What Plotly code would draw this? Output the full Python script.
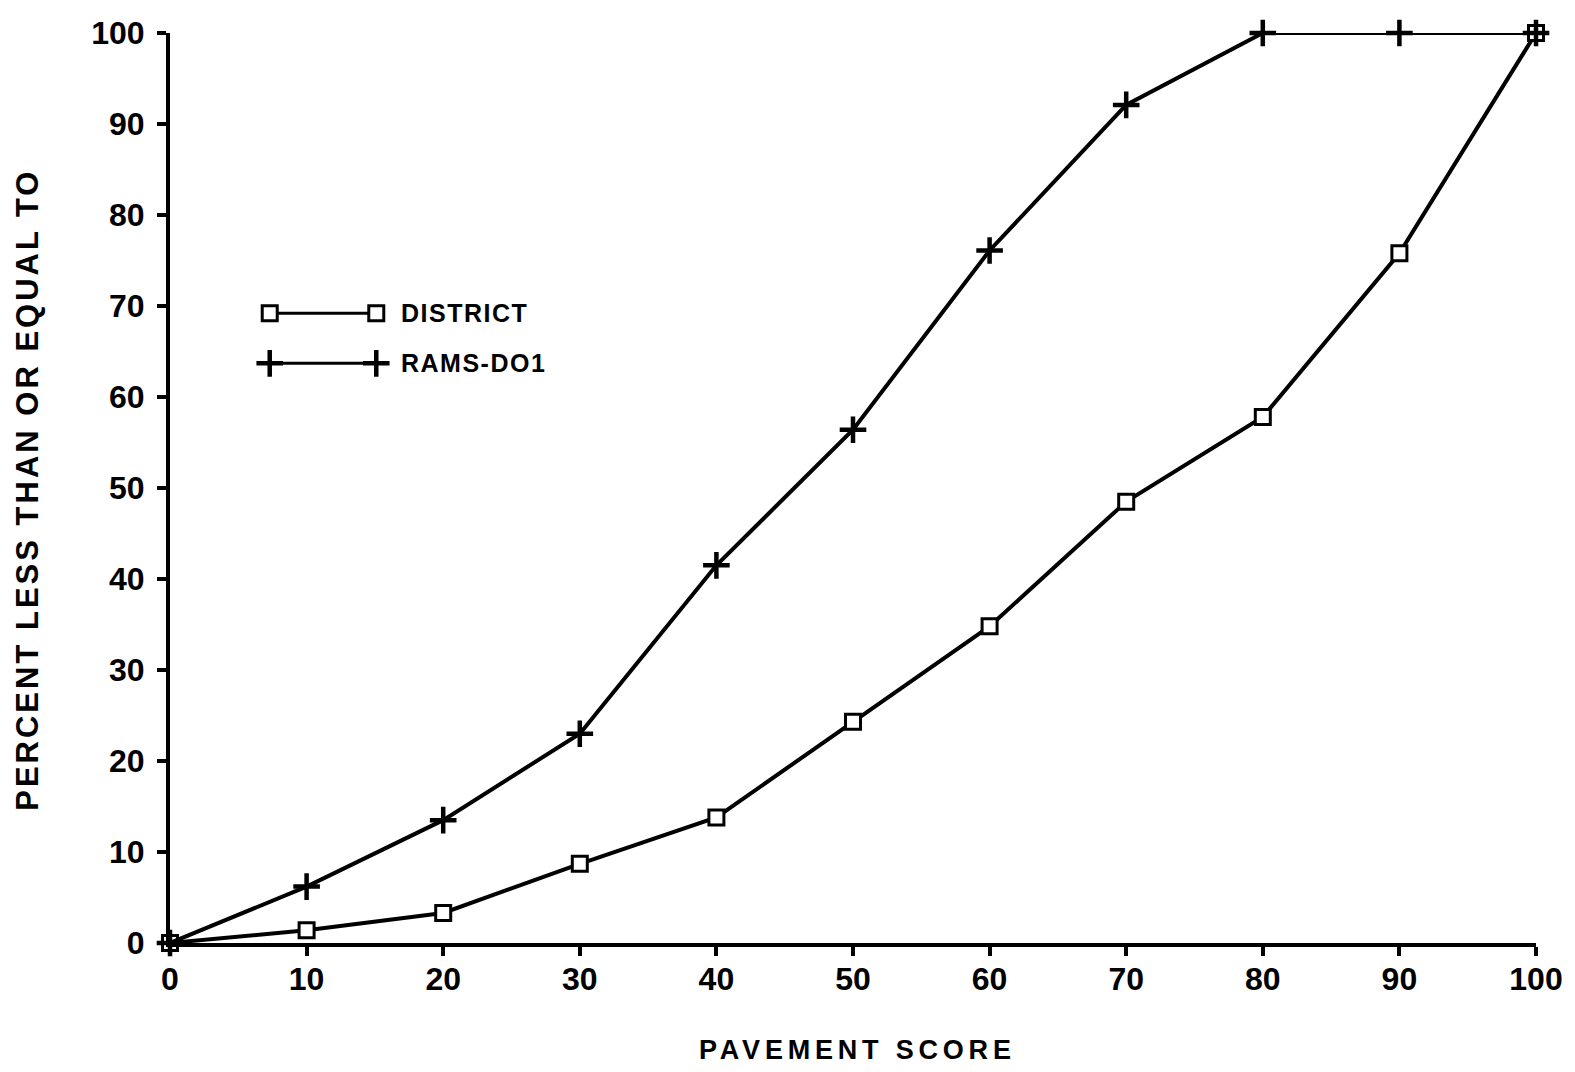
import plotly.graph_objects as go

# ---- data ----
pavement_score = [0, 10, 20, 30, 40, 50, 60, 70, 80, 90, 100]
district = [0, 1.4, 3.3, 8.7, 13.8, 24.3, 34.8, 48.5, 57.8, 75.8, 100]
rams_do1 = [0, 6.2, 13.5, 23.0, 41.5, 56.4, 76.1, 92.1, 100, 100, 100]
tick_vals = [0, 10, 20, 30, 40, 50, 60, 70, 80, 90, 100]
series_names = ["DISTRICT", "RAMS-DO1"]
x_title = "PAVEMENT SCORE"
y_title = "PERCENT LESS THAN OR EQUAL TO"

FONT = "Liberation Sans, Arial, Helvetica, sans-serif"
INK = "black"

square_marker = dict(symbol="square", size=15, color="white",
                     line=dict(color=INK, width=3))
cross_marker = dict(symbol="cross-thin", size=19, color=INK,
                    line=dict(color=INK, width=4.5))

fig = go.Figure()
fig.add_trace(go.Scatter(x=pavement_score, y=district, mode="lines+markers",
                         name=series_names[0], line=dict(color=INK, width=4),
                         marker=square_marker, cliponaxis=False, showlegend=False))
fig.add_trace(go.Scatter(x=pavement_score, y=rams_do1, mode="lines+markers",
                         name=series_names[1], line=dict(color=INK, width=4),
                         marker=cross_marker, cliponaxis=False, showlegend=False))

# ---- custom key (drawn on an overlay axis spanning the plot area, range 0..1) ----
key_x = [0.073, 0.151]
key_y = [0.692, 0.637]
fig.add_trace(go.Scatter(x=key_x, y=[key_y[0]] * 2, mode="lines+markers",
                         line=dict(color=INK, width=3), marker=square_marker,
                         xaxis="x2", yaxis="y2", showlegend=False, hoverinfo="skip",
                         cliponaxis=False))
fig.add_trace(go.Scatter(x=key_x, y=[key_y[1]] * 2, mode="lines+markers",
                         line=dict(color=INK, width=3), marker=cross_marker,
                         xaxis="x2", yaxis="y2", showlegend=False, hoverinfo="skip",
                         cliponaxis=False))
for name, yy in zip(series_names, key_y):
    fig.add_annotation(x=0.168, y=yy, xref="paper", yref="paper", xanchor="left",
                       yanchor="middle", showarrow=False,
                       text='<span style="letter-spacing:1.5px">' + name + '</span>',
                       font=dict(family=FONT, size=25, color=INK, weight="bold"))

# ---- axis titles ----
fig.add_annotation(x=0.503, y=-0.118, xref="paper", yref="paper", showarrow=False,
                   xanchor="center", yanchor="middle",
                   text='<span style="letter-spacing:4.8px">' + x_title + '</span>',
                   font=dict(family=FONT, size=27, color=INK, weight="bold"))
fig.add_annotation(x=-0.104, y=0.498, xref="paper", yref="paper", showarrow=False,
                   xanchor="center", yanchor="middle", textangle=-90,
                   text='<span style="letter-spacing:3px">' + y_title + '</span>',
                   font=dict(family=FONT, size=31, color=INK, weight="bold"))

axis_common = dict(range=[0, 100], tickvals=tick_vals, showgrid=False, zeroline=False,
                   showline=True, linecolor=INK, linewidth=4, ticks="outside",
                   ticklen=9, tickwidth=4, tickcolor=INK,
                   tickfont=dict(family=FONT, size=32, color=INK, weight="bold"))
fig.update_layout(
    width=1575, height=1072,
    margin=dict(l=170, r=37, t=33, b=129),
    paper_bgcolor="white", plot_bgcolor="white",
    xaxis=dict(**axis_common, ticklabelstandoff=-4),
    yaxis=dict(**axis_common, ticklabelstandoff=6),
    xaxis2=dict(range=[0, 1], overlaying="x", visible=False),
    yaxis2=dict(range=[0, 1], overlaying="y", visible=False),
    showlegend=False,
)

fig.write_html("out.html")
